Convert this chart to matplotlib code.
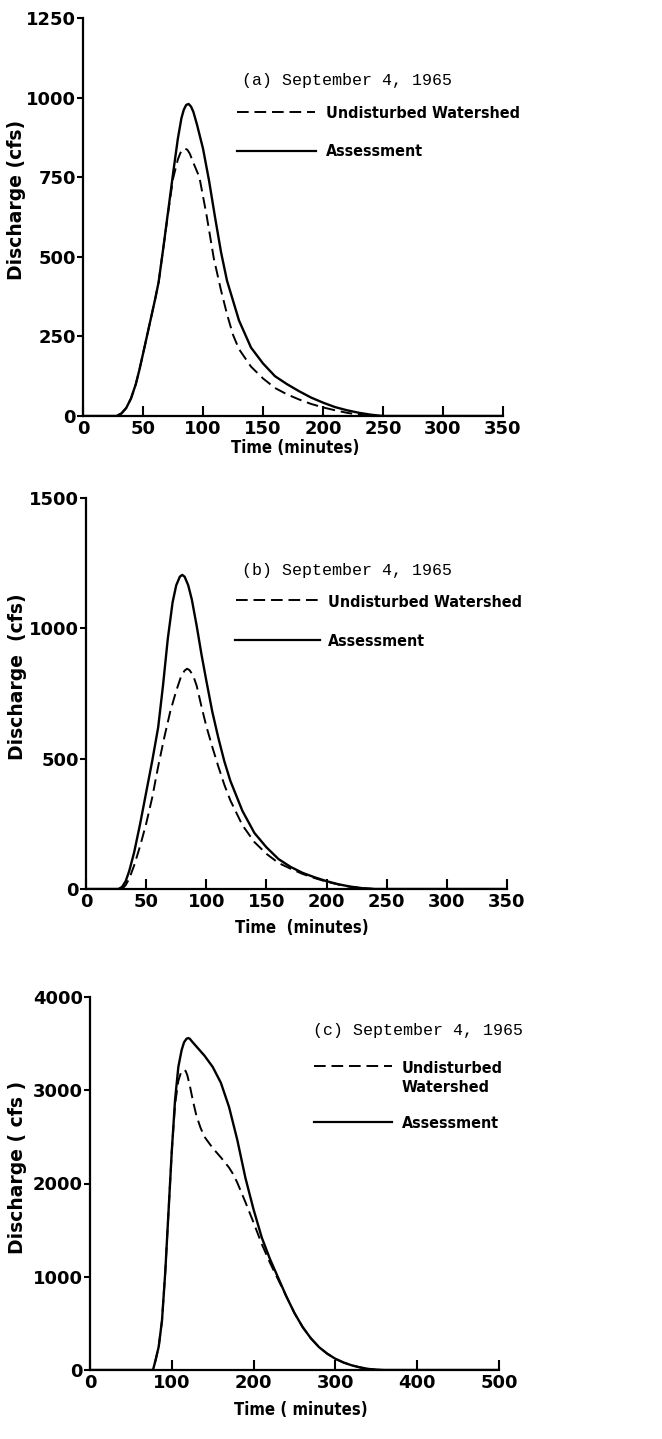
import matplotlib
matplotlib.use("Agg")
import matplotlib.pyplot as plt
from matplotlib.lines import Line2D

# (a) hydrographs
a_t_assess = [0, 28, 32, 36, 40, 44, 47, 50, 55, 60, 63, 67, 71, 75, 79, 82, 84, 86, 88, 90, 92, 95, 100,
              105, 110, 115, 120, 130, 140, 150, 160, 170, 180, 190, 200, 210, 220, 230, 240, 250, 350]
a_q_assess = [0, 0, 8, 25, 55, 100, 145, 195, 280, 365, 420, 530, 645, 760, 870, 935, 962, 977, 980, 972, 955, 915, 840,
              740, 625, 515, 425, 300, 215, 165, 125, 100, 78, 58, 42, 28, 18, 10, 4, 0, 0]
a_t_undist = [0, 28, 32, 36, 40, 44, 47, 50, 55, 60, 63, 67, 71, 75, 79, 81, 83, 85, 87, 89, 92, 97,
              103, 109, 115, 120, 125, 130, 140, 150, 160, 170, 180, 190, 200, 210, 220, 230, 240]
a_q_undist = [0, 0, 8, 25, 55, 100, 145, 195, 280, 365, 420, 530, 640, 745, 805, 825, 837, 840, 836, 824, 795, 750,
              630, 495, 395, 320, 255, 210, 155, 118, 88, 68, 52, 38, 27, 18, 10, 4, 0]

# (b) hydrographs
b_t_assess = [0, 27, 30, 33, 36, 40, 45, 50, 55, 60, 64, 68, 72, 75, 78, 80, 82, 85, 88, 92, 96, 100,
              105, 110, 115, 120, 130, 140, 150, 160, 170, 180, 190, 200, 210, 220, 230, 240, 350]
b_q_assess = [0, 0, 8, 30, 70, 140, 250, 370, 490, 620, 780, 960, 1100, 1165, 1198, 1205, 1198, 1165, 1110, 1010, 900, 800,
              680, 580, 490, 415, 300, 215, 160, 115, 85, 62, 45, 30, 18, 9, 3, 0, 0]
b_t_undist = [0, 30, 33, 36, 40, 45, 50, 55, 60, 65, 70, 75, 79, 82, 84, 86, 89, 92, 96, 100,
              105, 110, 115, 120, 130, 140, 150, 160, 170, 180, 190, 200, 210, 220, 230, 240]
b_q_undist = [0, 0, 15, 40, 90, 165, 250, 350, 470, 580, 680, 760, 815, 838, 845, 840, 820, 780, 700, 625,
              545, 470, 400, 340, 245, 180, 135, 100, 78, 58, 42, 28, 17, 8, 3, 0]

# (c) hydrographs
c_t_assess = [0, 77, 80, 84, 88, 92, 96, 100, 104, 108, 112, 115, 118, 120, 122, 125, 130, 140, 150, 160, 170, 180,
              190, 200, 210, 220, 230, 240, 250, 260, 270, 280, 290, 300, 310, 320, 330, 340, 350, 360, 500]
c_q_assess = [0, 0, 100, 250, 530, 1050, 1700, 2350, 2900, 3250, 3430, 3515, 3552, 3560, 3552, 3520, 3470, 3370, 3250, 3080, 2820, 2470,
              2060, 1720, 1420, 1190, 990, 790, 610, 460, 340, 245, 175, 120, 80, 50, 28, 12, 3, 0, 0]
c_t_undist = [0, 77, 80, 84, 88, 92, 96, 100, 104, 108, 111, 113, 115, 117, 119, 122, 126, 130, 135, 140, 150, 160,
              170, 175, 180, 190, 200, 210, 220, 230, 240, 250, 260, 270, 280, 290, 300, 310, 320, 330, 340, 350, 360]
c_q_undist = [0, 0, 100, 250, 530, 1050, 1700, 2350, 2850, 3100, 3185, 3212, 3220, 3205, 3160, 3050, 2880, 2730, 2600, 2500, 2380, 2280,
              2170, 2100, 2010, 1800, 1580, 1350, 1150, 970, 790, 610, 460, 340, 245, 175, 120, 80, 50, 28, 12, 3, 0]

W, H = 662, 1439
SANS = "DejaVu Sans"
MONO = "Liberation Mono"

plt.rcParams["font.family"] = [SANS]
plt.rcParams["font.weight"] = "bold"


def fx(px):
    return px / W


def fy(py):
    return 1 - py / H


def make_axes(fig, left, top, right, bottom):
    return fig.add_axes([fx(left), fy(bottom), fx(right) - fx(left), fy(top) - fy(bottom)])


def style_axis(ax, xmax, xstep, ymax, ystep):
    ax.set_xlim(0, xmax)
    ax.set_ylim(0, ymax)
    ax.set_xticks(range(0, xmax + 1, xstep))
    ax.set_yticks(range(0, ymax + 1, ystep))
    for s in ("top", "right"):
        ax.spines[s].set_visible(False)
    for s in ("left", "bottom"):
        ax.spines[s].set_linewidth(1.6)
    ax.tick_params(axis="x", direction="in", length=7, width=1.5, pad=3, labelsize=13)
    ax.tick_params(axis="y", direction="out", length=4, width=1.5, pad=1, labelsize=13)


def key(fig, x0, x1, y, dashed, label, tx, ty):
    ls = (0, (6, 3)) if dashed else "-"
    lw = 1.4 if dashed else 1.6
    fig.add_artist(Line2D([fx(x0), fx(x1)], [fy(y), fy(y)], color="black", lw=lw,
                          linestyle=ls, transform=fig.transFigure))
    fig.text(fx(tx), fy(ty), label, ha="left", va="center", fontsize=11.5,
             fontweight="bold", fontstretch="condensed", linespacing=1.3)


def draw(ax, t_u, q_u, t_a, q_a):
    ax.plot(t_a, q_a, color="black", lw=1.7, solid_capstyle="round", solid_joinstyle="round")
    ax.plot(t_u, q_u, color="black", lw=1.4, linestyle=(0, (6, 3)))


def labels(ax, xl, yl, xpos, ypos):
    ax.set_xlabel(xl, fontsize=12, fontweight="bold", fontstretch="condensed")
    ax.set_ylabel(yl, fontsize=13.5, fontweight="bold")
    ax.xaxis.label.set_va("center")
    ax.yaxis.label.set_va("center")
    ax.xaxis.set_label_coords(*xpos)
    ax.yaxis.set_label_coords(*ypos)


def title(fig, x, y, s):
    fig.text(fx(x), fy(y), s, family=MONO, fontweight="normal",
             fontsize=12, ha="left", va="center")


fig = plt.figure(figsize=(W / 100, H / 100), dpi=100)

# panel (a)
ax1 = make_axes(fig, 83, 18, 503, 416)
draw(ax1, a_t_undist, a_q_undist, a_t_assess, a_q_assess)
style_axis(ax1, 350, 50, 1250, 250)
labels(ax1, "Time (minutes)", "Discharge (cfs)",
       ((295 - 83) / 420, (416 - 448) / 398), ((16 - 83) / 420, (416 - 200) / 398))
title(fig, 242, 80, "(a) September 4, 1965")
key(fig, 237, 315, 112, True, "Undisturbed Watershed", 326, 114)
key(fig, 237, 316, 151, False, "Assessment", 326, 152)

# panel (b)
ax2 = make_axes(fig, 86, 498, 507, 889)
draw(ax2, b_t_undist, b_q_undist, b_t_assess, b_q_assess)
style_axis(ax2, 350, 50, 1500, 500)
labels(ax2, "Time  (minutes)", "Discharge  (cfs)",
       ((302 - 86) / 421, (889 - 928) / 391), ((18 - 86) / 421, (889 - 677) / 391))
title(fig, 242, 570, "(b) September 4, 1965")
key(fig, 236, 320, 600, True, "Undisturbed Watershed", 328, 602)
key(fig, 235, 320, 640, False, "Assessment", 328, 642)

# panel (c)
ax3 = make_axes(fig, 90, 997, 499, 1370)
draw(ax3, c_t_undist, c_q_undist, c_t_assess, c_q_assess)
style_axis(ax3, 500, 100, 4000, 1000)
labels(ax3, "Time ( minutes)", "Discharge ( cfs )",
       ((301 - 90) / 409, (1370 - 1410) / 373), ((18 - 90) / 409, (1370 - 1167) / 373))
title(fig, 313, 1031, "(c) September 4, 1965")
key(fig, 314, 392, 1066, True, "Undisturbed\nWatershed", 402, 1078)
key(fig, 314, 392, 1122, False, "Assessment", 402, 1123)

fig.savefig("out.png", dpi=100)
